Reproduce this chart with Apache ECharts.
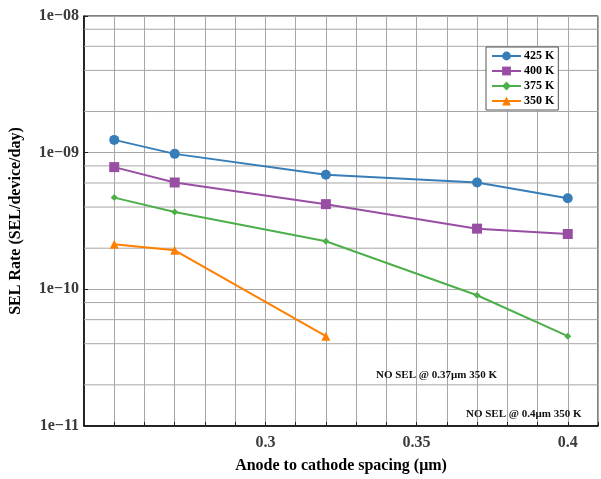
<!DOCTYPE html>
<html>
<head>
<meta charset="utf-8">
<script src="https://cdn.jsdelivr.net/npm/echarts@6/dist/echarts.min.js"></script>
<style>html,body{margin:0;padding:0;background:#fff;overflow:hidden}#c{width:601px;height:479px}</style>
</head>
<body>
<div id="c"></div>
<script>
const spacing = [0.25, 0.27, 0.32, 0.37, 0.40];
const rate425 = [1.24e-9, 9.8e-10, 6.9e-10, 6.05e-10, 4.64e-10];
const rate400 = [7.84e-10, 6.05e-10, 4.2e-10, 2.78e-10, 2.54e-10];
const rate375 = [4.69e-10, 3.68e-10, 2.25e-10, 9.05e-11, 4.54e-11];
const rate350 = [2.14e-10, 1.93e-10, 4.54e-11];
const seriesNames = ['425 K', '400 K', '375 K', '350 K'];
const xTickLabels = ['0.3', '0.35', '0.4'];
const minorGridValues = [2e-11, 4e-11, 6e-11, 8e-11, 2e-10, 4e-10, 6e-10, 8e-10, 2e-9, 4e-9, 6e-9, 8e-9];
const xRange = [0.24, 0.41];
const notes = ['NO SEL @ 0.37\u03bcm 350 K', 'NO SEL @ 0.4\u03bcm 350 K'];

const FONT = '"Liberation Serif", "Times New Roman", serif';
const pair = (xs, ys) => ys.map((v, i) => [xs[i], v]);
const colors = ['#377eb8', '#984ea3', '#4daf4a', '#ff7f00'];
const symbols = ['circle', 'rect', 'diamond', 'triangle'];
const sizes = [10, 10, 7, 9];
const datas = [rate425, rate400, rate375, rate350];

const chart = echarts.init(document.getElementById('c'), null, {renderer: 'canvas', width: 601, height: 479});
const series = [];
minorGridValues.forEach(v => {
  series.push({
    type: 'line', name: '_g' + v, data: [[xRange[0], v], [xRange[1], v]], z: 0, silent: true,
    showSymbol: false, symbol: 'none', animation: false,
    lineStyle: {color: '#a6a6a6', width: 1}, emphasis: {disabled: true}, tooltip: {show: false}
  });
});
datas.forEach((d, i) => {
  series.push({
    type: 'line', name: seriesNames[i], data: pair(spacing, d), z: 3,
    symbol: symbols[i], symbolSize: sizes[i], showSymbol: true,
    color: colors[i],
    itemStyle: {color: colors[i]},
    lineStyle: {color: colors[i], width: 2},
    animation: false
  });
});

chart.setOption({
  animation: false,
  backgroundColor: '#fff',
  grid: {left: 82, top: 16, right: 2, bottom: 46, show: true, borderColor: '#000', borderWidth: 1, backgroundColor: 'transparent'},
  legend: {
    data: seriesNames, orient: 'vertical', left: 486, top: 47,
    itemWidth: 29, itemHeight: 11, itemGap: 3,
    padding: [3, 4, 3, 5],
    backgroundColor: '#fff', borderColor: '#555', borderWidth: 1,
    textStyle: {fontFamily: FONT, fontWeight: 'bold', fontSize: 12, color: '#000', padding: [0, 0, 0, -2]}
  },
  xAxis: {
    type: 'value', min: xRange[0], max: xRange[1], interval: 0.01,
    name: 'Anode to cathode spacing (\u03bcm)', nameLocation: 'middle', nameGap: 32,
    nameTextStyle: {fontFamily: FONT, fontWeight: 'bold', fontSize: 16, color: '#000'},
    axisLine: {show: true, lineStyle: {color: '#000', width: 1.5}},
    axisTick: {show: true, inside: true, length: 4, lineStyle: {color: '#222'}},
    axisLabel: {
      fontFamily: FONT, fontWeight: 'bold', fontSize: 16, color: '#3a3a3a', margin: 9,
      formatter: v => { const t = String(Math.round(v * 1000) / 1000); return xTickLabels.includes(t) ? t : ''; }
    },
    splitLine: {show: true, lineStyle: {color: '#a6a6a6', width: 1}}
  },
  yAxis: {
    type: 'log', logBase: 10, min: 1e-11, max: 1e-8,
    name: 'SEL Rate (SEL/device/day)', nameLocation: 'middle', nameGap: 60,
    nameTextStyle: {fontFamily: FONT, fontWeight: 'bold', fontSize: 16, color: '#000'},
    axisLine: {show: true, lineStyle: {color: '#000', width: 1.5}},
    axisTick: {show: true, inside: true, length: 4, lineStyle: {color: '#222'}},
    axisLabel: {
      fontFamily: FONT, fontWeight: 'bold', fontSize: 16, color: '#3a3a3a', margin: 5,
      formatter: v => { const e = Math.round(Math.log10(v)); return '1e\u2212' + String(-e).padStart(2, '0'); }
    },
    splitLine: {show: true, lineStyle: {color: '#a6a6a6', width: 1}}
  },
  graphic: [
    {type: 'text', left: 376, top: 370, z: 10, style: {text: notes[0], font: 'bold 11px ' + FONT, fill: '#111'}},
    {type: 'text', left: 466, top: 409, z: 10, style: {text: notes[1], font: 'bold 11px ' + FONT, fill: '#111'}}
  ],
  series: series
});
</script>
</body>
</html>
